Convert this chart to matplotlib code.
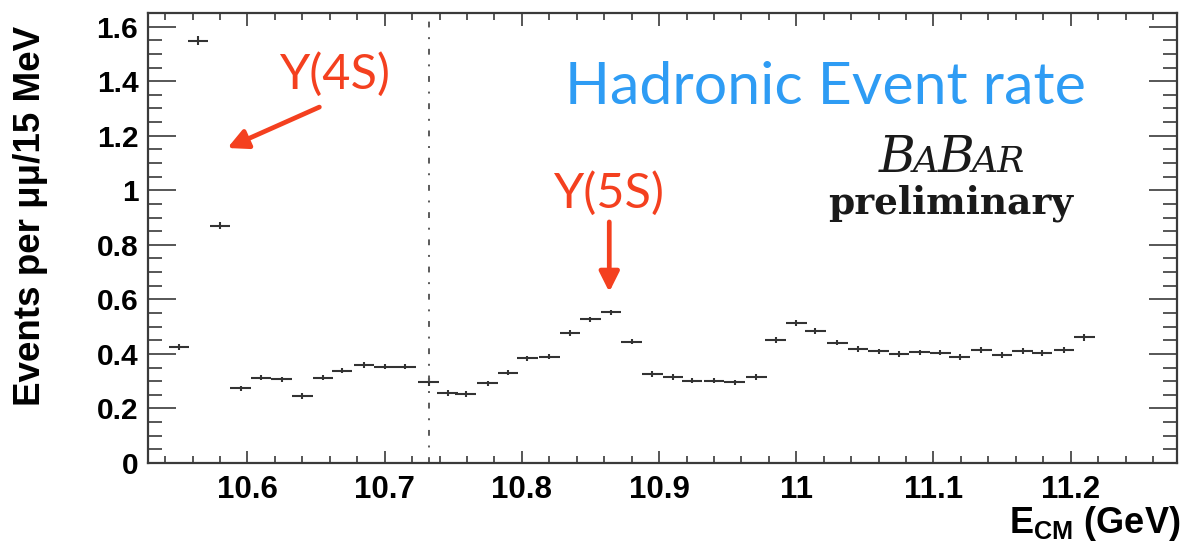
import matplotlib
matplotlib.use("Agg")
import matplotlib.pyplot as plt
from matplotlib.ticker import MultipleLocator

# Centre-of-mass energy of each scan point (GeV)
e_cm = [10.550, 10.564, 10.580, 10.595, 10.610, 10.625, 10.640, 10.655, 10.669,
        10.685, 10.700, 10.715, 10.732, 10.746, 10.759, 10.775, 10.790, 10.804,
        10.820, 10.835, 10.850, 10.865, 10.880, 10.895, 10.910, 10.924, 10.940,
        10.955, 10.971, 10.985, 11.000, 11.014, 11.030, 11.045, 11.060, 11.075,
        11.090, 11.105, 11.119, 11.135, 11.150, 11.165, 11.179, 11.195, 11.210]

# Hadronic events per mu-mu per 15 MeV
rate = [0.425, 1.549, 0.870, 0.274, 0.313, 0.307, 0.246, 0.313, 0.339,
        0.360, 0.353, 0.353, 0.298, 0.256, 0.253, 0.292, 0.331, 0.384,
        0.390, 0.476, 0.527, 0.552, 0.445, 0.327, 0.315, 0.302, 0.302,
        0.296, 0.315, 0.451, 0.513, 0.484, 0.441, 0.418, 0.409, 0.400,
        0.406, 0.405, 0.388, 0.415, 0.396, 0.411, 0.403, 0.415, 0.461]

rate_err = [0.011, 0.015, 0.012, 0.010, 0.010, 0.010, 0.010, 0.010, 0.010,
            0.010, 0.010, 0.010, 0.014, 0.010, 0.010, 0.010, 0.010, 0.010,
            0.010, 0.010, 0.010, 0.010, 0.010, 0.010, 0.010, 0.010, 0.010,
            0.010, 0.010, 0.010, 0.010, 0.010, 0.010, 0.010, 0.010, 0.010,
            0.010, 0.010, 0.010, 0.010, 0.010, 0.010, 0.010, 0.010, 0.013]

bin_half_width = 0.0075          # 15 MeV bins
threshold_e = 10.732             # dashed marker
x_range = (10.5275, 11.2775)
y_range = (0.0, 1.65)

x_ticks = [10.6, 10.7, 10.8, 10.9, 11.0, 11.1, 11.2]
x_tick_labels = ["10.6", "10.7", "10.8", "10.9", "11", "11.1", "11.2"]
y_ticks = [0, 0.2, 0.4, 0.6, 0.8, 1.0, 1.2, 1.4, 1.6]
y_tick_labels = ["0", "0.2", "0.4", "0.6", "0.8", "1", "1.2", "1.4", "1.6"]

peak_4s = (10.5854, 1.155)
peak_5s = (10.8637, 0.627)

plt.rcParams["mathtext.fontset"] = "custom"
plt.rcParams["mathtext.rm"] = "Liberation Sans"
plt.rcParams["mathtext.bf"] = "Liberation Sans:bold"

W, H = 1182, 554
fig = plt.figure(figsize=(W / 100, H / 100), dpi=100)
ax = fig.add_axes([148 / W, 91 / H, 1029 / W, 450 / H])

frame_col = "#3a3a3a"
ax.errorbar(e_cm, rate, xerr=bin_half_width, yerr=rate_err, fmt="none",
            ecolor="#333333", elinewidth=1.5, capsize=0)

ax.axvline(threshold_e, color="#5a5a5a", lw=1.4,
           linestyle=(0, (3, 5, 1, 5)))

ax.set_xlim(*x_range)
ax.set_ylim(*y_range)

ax.xaxis.set_major_locator(MultipleLocator(0.1))
ax.xaxis.set_minor_locator(MultipleLocator(0.02))
ax.yaxis.set_major_locator(MultipleLocator(0.2))
ax.yaxis.set_minor_locator(MultipleLocator(0.05))
ax.set_xticks(x_ticks, x_tick_labels)
ax.set_yticks(y_ticks, y_tick_labels)

for s in ax.spines.values():
    s.set_color(frame_col)
    s.set_linewidth(1.6)

ax.tick_params(which="both", direction="in", top=True, right=True,
               color=frame_col, width=1.2)
ax.tick_params(axis="y", which="major", length=20, pad=7)
ax.tick_params(axis="y", which="minor", length=10)
ax.tick_params(axis="x", which="major", length=9, pad=9)
ax.tick_params(axis="x", which="minor", length=5)

for lab in ax.get_yticklabels():
    lab.set_fontfamily("Liberation Sans")
    lab.set_fontweight("bold")
    lab.set_fontsize(21.5)
for lab in ax.get_xticklabels():
    lab.set_fontfamily("Liberation Sans")
    lab.set_fontweight("bold")
    lab.set_fontsize(22.5)

fig.text(31 / W, 1 - 216 / H, "Events per \u03bc\u03bc/15 MeV", rotation=90,
         ha="center", va="center", fontsize=26.5, fontweight="bold",
         family="Liberation Sans")
fig.text(1180 / W, 1 - 533 / H, r"$\mathbf{E_{CM}}$ (GeV)", ha="right",
         va="baseline", fontsize=26, fontweight="bold",
         family="Liberation Sans")

red = "#f4401f"
blue = "#2e9cf4"
hand = ["Lato", "DejaVu Sans"]

ax.text((565 - 148) / 1029, (463 - 104) / 450, "Hadronic Event rate",
        transform=ax.transAxes, ha="left", va="baseline", fontsize=42.5,
        color=blue, family=hand)

ax.text(10.6634, 1.426, "\u03a5(4S)", ha="center", va="center",
        fontsize=35, color=red, family=hand)
ax.annotate("", xy=peak_4s, xytext=(10.6524, 1.305),
            arrowprops=dict(arrowstyle="-|>", color=red, lw=3.4,
                            mutation_scale=30, shrinkA=0, shrinkB=0))
ax.text(10.863, 0.990, "\u03a5(5S)", ha="center", va="center",
        fontsize=35, color=red, family=hand)
ax.annotate("", xy=peak_5s, xytext=(10.8637, 0.884),
            arrowprops=dict(arrowstyle="-|>", color=red, lw=3.4,
                            mutation_scale=30, shrinkA=0, shrinkB=0))

# BaBar logo: alternating large and small italic capitals on one baseline
fig.canvas.draw()
rend = fig.canvas.get_renderer()
logo_parts = [("B", 36), ("A", 26), ("B", 36), ("AR", 26)]
pieces = []
x_px = 0.0
base_y = 1 - 172 / H
for txt, size in logo_parts:
    t = fig.text(x_px / W, base_y, txt, fontsize=size, style="italic",
                 family="DejaVu Serif", color="#1a1a1a",
                 ha="left", va="baseline")
    bb = t.get_window_extent(rend)
    pieces.append(t)
    x_px = bb.x1 - 2
logo_w = x_px
shift = 951 - logo_w / 2
for t in pieces:
    px, py = t.get_position()
    t.set_position((px + shift / W, py))

fig.text(951 / W, 1 - 213 / H, "preliminary", ha="center", va="baseline",
         fontsize=27, fontweight="bold", family="DejaVu Serif",
         color="#1a1a1a")

fig.savefig("out.png", dpi=100)
